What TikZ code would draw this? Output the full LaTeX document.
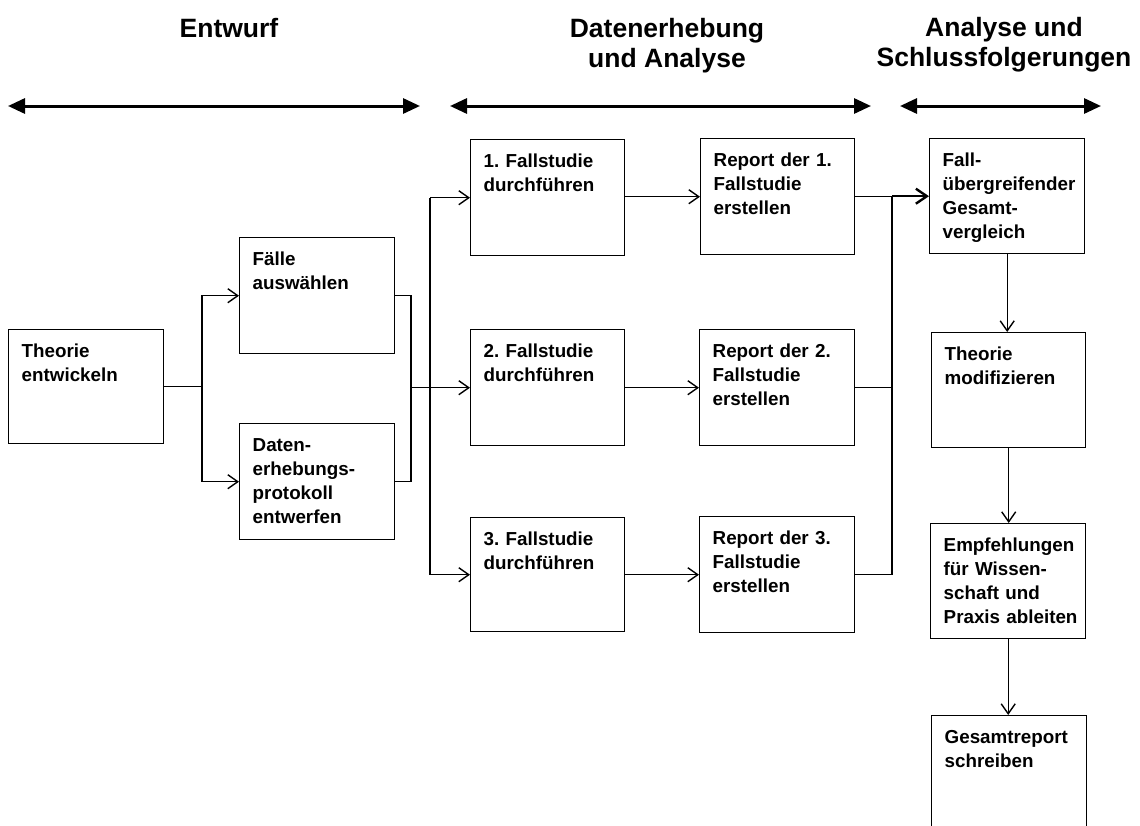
\documentclass[tikz,border=0pt]{standalone}
\usepackage{fontspec}
\setmainfont{Liberation Sans}
\usetikzlibrary{arrows.meta}
\frenchspacing

\newcommand{\boxfont}{\fontsize{18.8pt}{24pt}\selectfont\bfseries}
\newcommand{\headfont}{\fontsize{26.5pt}{30pt}\selectfont\bfseries}

\tikzset{
  stepbox/.style={draw=black, line width=1.4pt, anchor=north west,
    inner sep=0pt, text width=155pt, align=left, font=\boxfont,
    text height=27.5pt, text depth=88.5pt,
    execute at begin node={\leftskip=13pt\relax}},
  phasehead/.style={font=\headfont, align=center, anchor=base},
  phase/.style={line width=3pt,
    {Triangle[length=17pt,width=15pt]}-{Triangle[length=17pt,width=15pt]}},
  link/.style={line width=1.4pt},
  conn/.style={line width=1.4pt, -{Straight Barb[length=10pt,width=14pt]}},
  mainconn/.style={line width=2.4pt, -{Straight Barb[length=11pt,width=15pt]}},
}

\begin{document}
\begin{tikzpicture}[x=1pt, y=-1pt]
\useasboundingbox (0,0) rectangle (1140,825);
\clip (0,0) rectangle (1140,825);

% phase headings (base anchor sits on the last line)
\node[phasehead] (h1) at (229,37) {Entwurf};
\node[phasehead] (h2) at (667,67) {Datenerhebung\\und Analyse};
\node[phasehead] (h3) at (1004,66) {Analyse und\\Schlussfolgerungen};

% phase extents
\coordinate (p1a) at (8,106);   \coordinate (p1b) at (420,106);
\coordinate (p2a) at (450,106); \coordinate (p2b) at (871,106);
\coordinate (p3a) at (900,106); \coordinate (p3b) at (1101,106);
\draw[phase] (p1a) -- (p1b);
\draw[phase] (p2a) -- (p2b);
\draw[phase] (p3a) -- (p3b);

% design
\node[stepbox, text depth=86.5pt] (th) at (8,329) {Theorie\\entwickeln};
\node[stepbox] (fa) at (239,237) {Fälle\\auswählen};
\node[stepbox] (de) at (239,423) {Daten-\\erhebungs-\\protokoll\\entwerfen};

% data collection and analysis
\node[stepbox, text width=154pt] (f1) at (470,139) {1. Fallstudie\\durchführen};
\node[stepbox, text width=154pt] (f2) at (470,329) {2. Fallstudie\\durchführen};
\node[stepbox, text width=154pt, text depth=86.5pt] (f3) at (470,517) {3. Fallstudie\\durchführen};
\node[stepbox, text width=154pt] (r1) at (700,138) {Report der 1.\\Fallstudie\\erstellen};
\node[stepbox] (r2) at (699,329) {Report der 2.\\Fallstudie\\erstellen};
\node[stepbox] (r3) at (699,516) {Report der 3.\\Fallstudie\\erstellen};

% analysis and conclusions
\node[stepbox, text depth=87.5pt] (fg) at (929,138) {Fall-\\übergreifender\\Gesamt-\\vergleich};
\node[stepbox, text width=154pt, text depth=87.5pt] (tm) at (931,332) {Theorie\\modifizieren};
\node[stepbox, text depth=87.5pt] (em) at (930,523) {Empfehlungen\\für Wissen-\\schaft und\\Praxis ableiten};
\node[stepbox, text depth=90.5pt] (gr) at (931,715) {Gesamtreport\\schreiben};

% split after theory development
\coordinate (jl) at (202,0);
\draw[link] (th.east) -- (th.east -| jl);
\draw[conn] (th.east -| jl) |- (fa.west);
\draw[conn] (th.east -| jl) |- (de.west);

% merge of case selection and protocol
\coordinate (jm) at (411,0);
\draw[link] (fa.east) -- (fa.east -| jm) -- (de.east -| jm) -- (de.east);
\draw[conn] (f2.west -| jm) -- (f2.west);

% distribution to the case studies
\coordinate (jd) at (430,0);
\draw[conn] (jd |- f1.west) -- (f1.west);
\draw[conn] (jd |- f1.west) |- (f3.west);

% case study to report
\draw[conn] (f1.east |- r1.west) -- (r1.west);
\draw[conn] (f2.east |- r2.west) -- (r2.west);
\draw[conn] (f3.east |- r3.west) -- (r3.west);

% reports into the cross-case comparison
\coordinate (jr) at (892,0);
\draw[link] (r1.east) -- (r1.east -| jr);
\draw[link] (r2.east) -- (r2.east -| jr);
\draw[link] (r3.east) -- (r3.east -| jr) -- (jr |- r1.east);
\draw[mainconn] (jr |- fg.west) -- (fg.west);

% final sequence
\draw[conn] (fg.south) -- (fg.south |- tm.north);
\draw[conn] (tm.south) -- (tm.south |- em.north);
\draw[conn] (em.south) -- (em.south |- gr.north);
\end{tikzpicture}
\end{document}
